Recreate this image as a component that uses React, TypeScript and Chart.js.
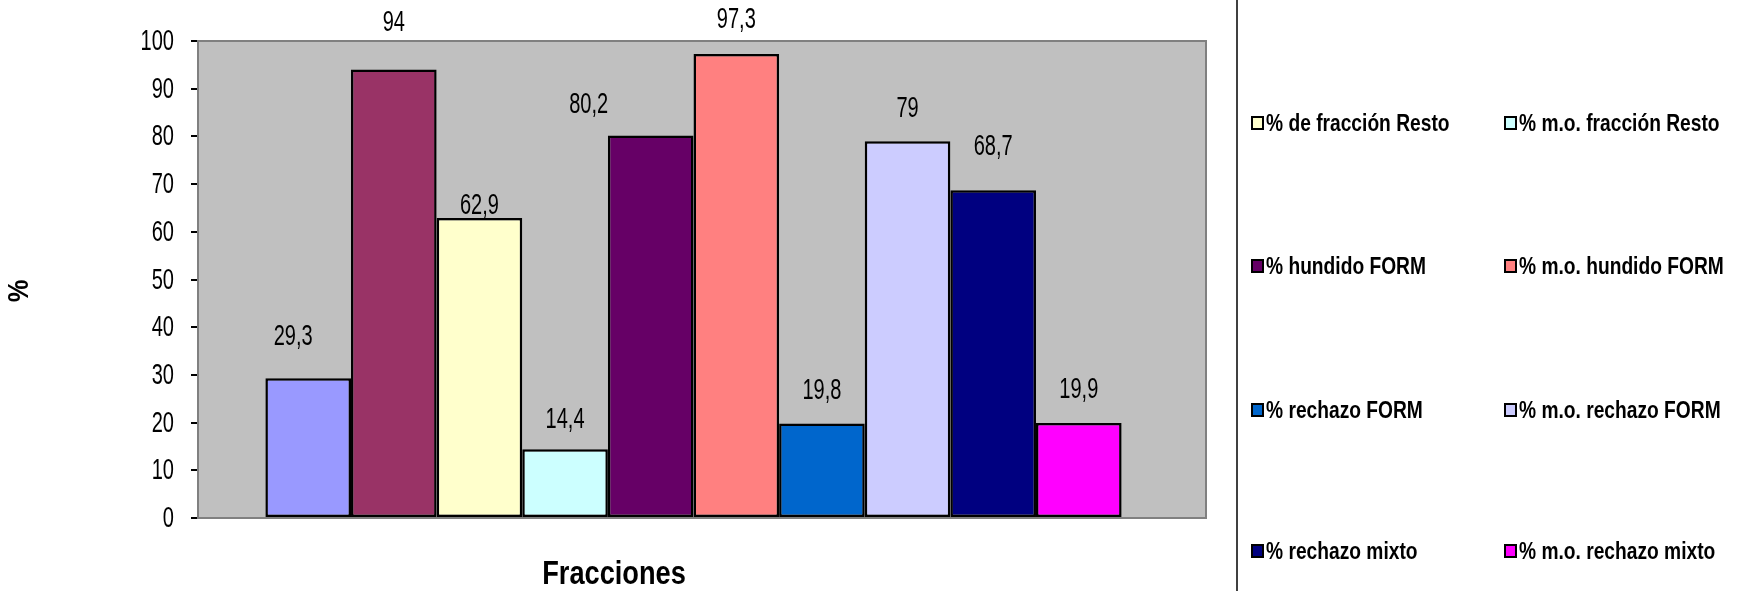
import React, { useEffect, useRef } from 'react';
import { Chart, registerables } from 'chart.js';

Chart.register(...registerables);

// ---------- data ----------
const categories = [''];
const seriesNames = [
  '% fracción Resto (1)',
  '% fracción Resto (2)',
  '% de fracción Resto',
  '% m.o. fracción Resto',
  '% hundido FORM',
  '% m.o. hundido FORM',
  '% rechazo FORM',
  '% m.o. rechazo FORM',
  '% rechazo mixto',
  '% m.o. rechazo mixto',
];
const seriesValues = [29.3, 94, 62.9, 14.4, 80.2, 97.3, 19.8, 79, 68.7, 19.9];
const seriesColors = [
  '#9999FF', '#993366', '#FFFFCC', '#CCFFFF', '#660066',
  '#FF8080', '#0066CC', '#CCCCFF', '#000080', '#FF00FF',
];
const legendInView = [false, false, true, true, true, true, true, true, true, true];
const yTickValues = [0, 10, 20, 30, 40, 50, 60, 70, 80, 90, 100];
const xTitle = 'Fracciones';
const yTitle = '%';

// ---------- style ----------
const FONT = '"Liberation Sans", Arial, sans-serif';
const W = 1738;
const H = 591;
const PLOT = { left: 198, right: 1189, frameRight: 1206, top: 41, bottom: 518 };
const labelLift = [41, 47, 12, 29, 30, 34, 33, 32, 43, 33];
const labelShift = [-15, 0, 0, 0, -62, 0, 0, 0, 0, 0];
const legendCols = [1252, 1505];
const legendRows = [123, 266, 410, 551];
const dividerX = 1237;

const fmt = (v: number) => String(v).replace('.', ',');

function narrow(ctx: CanvasRenderingContext2D, text: string, x: number, y: number,
  align: CanvasTextAlign, sx: number, rot = 0) {
  ctx.save();
  ctx.translate(x, y);
  if (rot) ctx.rotate(rot);
  ctx.scale(sx, 1);
  ctx.textAlign = align;
  ctx.textBaseline = 'middle';
  ctx.fillText(text, 0, 0);
  ctx.restore();
}

const plotBgPlugin = {
  id: 'plotBg',
  beforeDatasetsDraw(chart: any) {
    const { ctx, chartArea: a } = chart;
    ctx.save();
    ctx.fillStyle = '#C0C0C0';
    ctx.fillRect(a.left, a.top, PLOT.frameRight - a.left, a.bottom - a.top);
    ctx.strokeStyle = '#808080';
    ctx.lineWidth = 2;
    ctx.strokeRect(a.left, a.top, PLOT.frameRight - a.left, a.bottom - a.top);
    ctx.restore();
  },
};

const textPlugin = {
  id: 'texts',
  afterDatasetsDraw(chart: any) {
    const { ctx } = chart;
    ctx.save();
    ctx.fillStyle = '#000';
    // value labels
    ctx.font = `29px ${FONT}`;
    chart.data.datasets.forEach((ds: any, i: number) => {
      const el = chart.getDatasetMeta(i).data[0];
      if (!el) return;
      narrow(ctx, fmt(ds.data[0]), el.x + labelShift[i], el.y - labelLift[i], 'center', 0.69);
    });
    // y tick labels
    const ys = chart.scales.y;
    yTickValues.forEach((v) => {
      narrow(ctx, String(v), 174, ys.getPixelForValue(v) + 1, 'right', 0.69);
    });
    // axis titles
    ctx.font = `bold 34px ${FONT}`;
    narrow(ctx, xTitle, 614, 575, 'center', 0.8);
    ctx.font = `bold 30px ${FONT}`;
    narrow(ctx, yTitle, 20, 291, 'center', 0.85, -Math.PI / 2);
    ctx.restore();
  },
  afterDraw(chart: any) {
    const { ctx } = chart;
    ctx.save();
    ctx.strokeStyle = '#404040';
    ctx.lineWidth = 2;
    ctx.beginPath();
    ctx.moveTo(dividerX, 0);
    ctx.lineTo(dividerX, H);
    ctx.stroke();

    ctx.font = `bold 24px ${FONT}`;
    let k = 0;
    chart.data.datasets.forEach((ds: any, i: number) => {
      if (!legendInView[i]) return;
      const x = legendCols[k % 2];
      const y = legendRows[Math.floor(k / 2)];
      k++;
      ctx.fillStyle = ds.backgroundColor;
      ctx.fillRect(x, y - 6, 11, 12);
      ctx.strokeStyle = '#000';
      ctx.lineWidth = 2;
      ctx.strokeRect(x, y - 6, 11, 12);
      ctx.fillStyle = '#000';
      narrow(ctx, ds.label, x + 14, y + 1, 'left', 0.8);
    });
    ctx.restore();
  },
};

export default function App() {
  const ref = useRef<HTMLCanvasElement | null>(null);

  useEffect(() => {
    document.body.style.margin = '0';
    const canvas = ref.current;
    if (!canvas) return;
    const chart = new Chart(canvas, {
      type: 'bar',
      data: {
        labels: categories,
        datasets: seriesNames.map((name, i) => ({
          label: name,
          data: [seriesValues[i]],
          backgroundColor: seriesColors[i],
          borderColor: '#000000',
          borderWidth: 2.5,
          borderSkipped: false,
          categoryPercentage: 0.864,
          barPercentage: 1,
        })),
      },
      options: {
        animation: false,
        responsive: false,
        maintainAspectRatio: false,
        layout: { padding: { top: PLOT.top, right: W - PLOT.right, left: 0, bottom: 0 } },
        plugins: {
          legend: { display: false },
          tooltip: { enabled: false },
        },
        scales: {
          x: {
            grid: { display: false, drawTicks: false },
            border: { display: false },
            ticks: { display: false },
            afterFit(scale: any) {
              scale.height = H - PLOT.bottom;
            },
          },
          y: {
            min: 0,
            max: 100,
            afterBuildTicks(scale: any) {
              scale.ticks = yTickValues.map((v) => ({ value: v }));
            },
            ticks: { display: false },
            grid: {
              drawOnChartArea: false,
              drawTicks: true,
              tickLength: 7,
              color: '#000',
              lineWidth: 2,
            },
            border: { display: true, color: '#000', width: 2 },
            afterFit(scale: any) {
              scale.width = PLOT.left;
            },
          },
        },
      },
      plugins: [plotBgPlugin, textPlugin],
    });
    return () => chart.destroy();
  }, []);

  return (
    <div style={{ width: W, height: H, overflow: 'hidden', background: '#fff' }}>
      <canvas ref={ref} width={W} height={H} style={{ display: 'block', width: W, height: H }} />
    </div>
  );
}
